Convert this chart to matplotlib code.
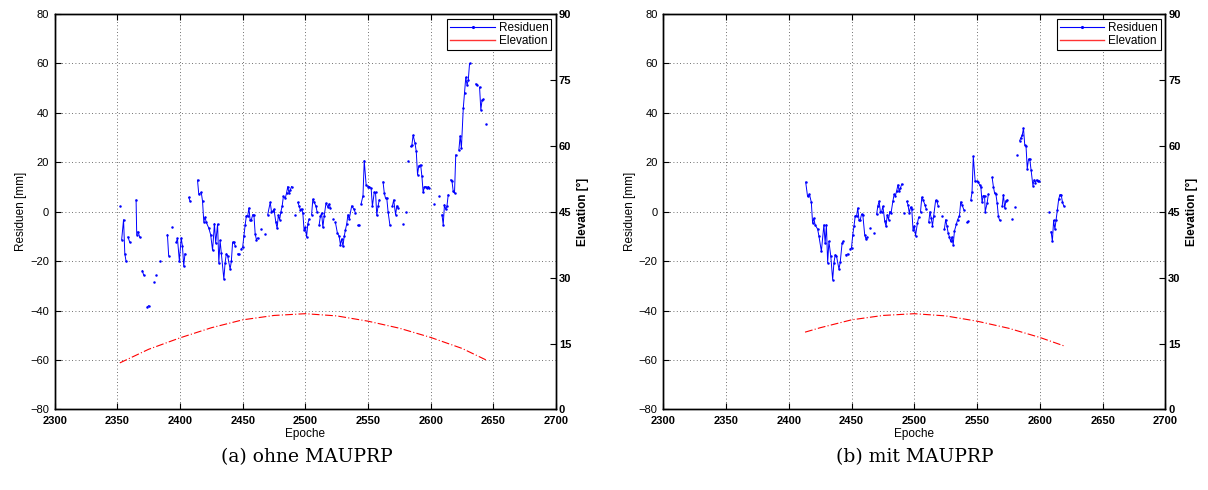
import numpy as np
import matplotlib
matplotlib.use("Agg")
import matplotlib.pyplot as plt
from matplotlib.lines import Line2D

plt.rcParams["font.family"] = ["Liberation Sans", "DejaVu Sans"]

# Residuen ohne MAUPRP: segments separated by gaps (epoch, mm)
segs_ohne = [
    [(2352, 2.2)],
    [(2353.5, -11.3), (2355, -3.2), (2356, -17), (2357, -20)],
    [(2358.5, -10.2), (2360, -12.4)],
    [(2365, 4.8), (2365.5, -9.3), (2366.5, -8), (2368, -10.4)],
    [(2370, -23.8), (2371, -25.6)],
    [(2374, -38.5), (2375, -38)],
    [(2379, -28.6)],
    [(2381, -25.5)],
    [(2384, -20)],
    [(2390, -9.3), (2391, -17.8)],
    [(2394, -6.2)],
    [(2397, -12.4), (2398, -10.8), (2399.5, -19.8), (2401, -10.6), (2402, -14),
     (2403, -22), (2404, -17)],
    [(2407, 5.8), (2408, 4.3)],
    [(2414, 12.8), (2415, 7.1), (2417, 7.8), (2418, 4.3), (2419, -4), (2420, -2.2),
     (2421, -4.3), (2423, -6.6), (2424.5, -9.3), (2426, -15.6), (2427.5, -4.8),
     (2428.5, -12.7), (2430, -5), (2431, -20.7), (2432, -11.6), (2433, -16.7),
     (2435, -27.2), (2436, -20.7), (2437, -17), (2438, -17.8), (2440, -23.2),
     (2441, -20), (2442, -12.3), (2443, -12.3), (2444, -13.7)],
    [(2446, -17.1), (2447, -17.1)],
    [(2449, -15), (2450, -14.4), (2451, -9.7), (2452, -5.3), (2453, -1.6), (2454, -1.8),
     (2455, 1.5), (2456, -3.5), (2457, -3.2), (2458, -1.2), (2459, -1.3), (2460, -9),
     (2461, -11.3), (2462, -10.6)],
    [(2465, -7)],
    [(2468, -9)],
    [(2470, -1.2), (2472, 3.8), (2473, 0), (2474, 0.2), (2475, 1), (2476.5, -4.3),
     (2477.5, -6.7), (2478.5, -1.3), (2479.5, -3.2), (2480.5, 0), (2481.5, 2.2),
     (2482.5, 6.2), (2484, 5.5), (2485, 7.5), (2486, 10.2), (2487, 7.5), (2488, 8.9),
     (2489, 10.2)],
    [(2492, -1.2)],
    [(2494, 3.8), (2495, 2.4), (2496, 0.8), (2497, 1.2), (2498, -0.5), (2499, -7.3),
     (2500, -6.3), (2501, -10.2), (2502, -4.8), (2503, -3)],
    [(2505, -1.2), (2506, 5.1), (2507, 3.9), (2508.5, 2.2), (2509.5, -0.3)],
    [(2511, -5.4), (2512, -1.9), (2513, -0.5), (2514, -6.3), (2515, -1.9), (2516.5, 3.5),
     (2518, 1.9), (2519, 3.2), (2520, 1.5)],
    [(2522, -3)],
    [(2524, -4.3), (2525.5, -8.4), (2527, -10), (2528, -13.3), (2529, -11), (2530, -14),
     (2531, -10), (2532, -7.3), (2533, -5), (2534, -1.2), (2535, -3), (2537, 2.4),
     (2538.8, 1), (2540, -0.5)],
    [(2542, -5.5), (2543, -5.5)],
    [(2544.5, 3.2), (2546, 6.5), (2547, 20.7), (2548.5, 10.9), (2550, 10.2), (2551, 10.2),
     (2552.5, 9.5), (2553.5, 2.2), (2555, 7.9), (2556, 7.8), (2557, -1.5), (2558, 2.2),
     (2559, 4.8)],
    [(2562, 12.1), (2563, 7.5), (2564, 5.4), (2565, 5.4), (2566, 0), (2567.5, -5.5)],
    [(2569.5, 2.4), (2570.5, 4.8), (2572, -1.2), (2573, 2.4), (2574, 1.5)],
    [(2578, -5)],
    [(2580, 0)],
    [(2582, 20.7)],
    [(2584, 26.4), (2585, 27), (2586, 31), (2587.5, 27.7), (2588.5, 24.4), (2589.5, 15),
     (2590.5, 18.6), (2592, 19), (2593, 14.3), (2594, 7.8), (2595, 10), (2596, 10.2),
     (2597, 9.5), (2598, 10.2), (2599, 9.5)],
    [(2603, 3)],
    [(2607, 6.5)],
    [(2609, -1.2), (2610, -5.3), (2611, 2.8), (2612, 1), (2613, 2.4), (2614, 6.9)],
    [(2616, 12.9), (2617, 12.3), (2618, 8.2), (2619, 7.5), (2620, 23)],
    [(2622.5, 25), (2623.5, 30.7), (2624.5, 25.7), (2626, 41.9), (2627, 48), (2628, 54.4),
     (2629, 51.3), (2630, 53.3), (2631, 60)],
    [(2636, 51.7), (2637, 51.3)],
    [(2639, 50.4), (2640, 41.2), (2641, 45.2), (2642, 45.5)],
    [(2644, 35.6)],
]

# Residuen mit MAUPRP
segs_mit = [
    [(2413.5, 12), (2415, 6.2), (2416.5, 7.1), (2418, 3.8), (2419, -4.6), (2420, -2.6),
     (2421, -5.3), (2423, -7), (2424, -9.7), (2426, -16), (2428, -5.3), (2429, -12.7),
     (2430, -5.3), (2431, -20.7), (2432, -12), (2433.5, -18), (2435, -27.5),
     (2436, -20.7), (2437, -17.4), (2438, -17.8), (2440, -23.2), (2441, -20.5),
     (2442.5, -12.7), (2443.5, -12)],
    [(2445.5, -17.4), (2447, -17.1)],
    [(2449, -15), (2450, -14.6), (2451, -9.3), (2452, -5.7), (2453, -1.6), (2454, -1.9),
     (2455, 1.5), (2456, -3.5), (2457, -3.2), (2458, -1), (2459, -1.2), (2460.5, -9.3),
     (2461.5, -11), (2462.5, -10.4)],
    [(2465, -6.6)],
    [(2468, -8.6)],
    [(2470, -1), (2471, 2.4), (2472, 4.2), (2473, 0), (2474, 0), (2475, 2.2),
     (2476.5, -3.9), (2477.5, -5.9), (2478.5, -1.2), (2479.5, -3.2), (2480.5, 0.1),
     (2481.5, -0.5), (2483, 4.4), (2484, 7.1), (2485, 6.5), (2486, 8.5), (2487, 10.9),
     (2488, 8.2), (2489, 9.6), (2490, 11.2)],
    [(2492, -0.5)],
    [(2494, 4.2), (2495, 2.8), (2496, -0.5), (2497, 1.9), (2498, 1.1), (2499, -7.3),
     (2500, -5.7), (2501, -9.7), (2502.5, -4.6), (2503.5, -2.2)],
    [(2505, 0.1), (2506, 5.9), (2507, 4.8), (2508.5, 2.8), (2509.5, 1.1)],
    [(2511.5, -4.3), (2512.5, 0), (2513.5, -2.6), (2514.5, -5.7), (2515.5, -1.6),
     (2517, 4.6), (2518, 4.2), (2519, 2.4)],
    [(2522, -1.9)],
    [(2524, -7), (2525, -3.2), (2526, -5.7), (2527, -8.6), (2528, -10.2), (2529, -12),
     (2530, -10.2), (2531, -13.3), (2532, -7.8), (2533.5, -5), (2534.5, -3.2),
     (2536, -1.6), (2537, 4), (2538, 2.8), (2539.5, 0.8)],
    [(2542, -4.3), (2543, -3.9)],
    [(2545, 4.6), (2546, 7.8), (2547, 22.4), (2548.5, 12.3), (2550, 12.3), (2551, 11.9),
     (2552, 10.9), (2553, 10.2), (2554, 3.8), (2555, 6.5), (2556, 6.5), (2556.5, 0),
     (2558, 3.4), (2559, 7.1)],
    [(2562, 13.9), (2563, 10.2), (2564, 7.5), (2565, 7.2), (2566, 3.5), (2567, -1.9),
     (2568, -3.5)],
    [(2570, 2.2), (2571, 6.9), (2572, 1.5), (2573, 4.5), (2574, 4.8)],
    [(2578, -3)],
    [(2580, 1.9)],
    [(2582, 23)],
    [(2584, 28.8), (2585, 30), (2586, 31), (2587, 33.8), (2588, 27), (2589, 26.6),
     (2590, 17.4), (2591, 21.3), (2592, 21.3), (2593, 17), (2594.5, 10.6),
     (2595.5, 12.9), (2596.5, 11.8), (2597.5, 12.9), (2598.5, 12.3), (2599.5, 12.3)],
    [(2607, 0)],
    [(2609, -8), (2610, -12), (2611, -3.5), (2612, -7), (2613, -3.2), (2614, 0.8),
     (2615, 5), (2616, 6.9), (2617, 6.9), (2618, 4), (2619, 2.4)],
]

# Elevation [deg]
elev_epoch_ohne = [2352, 2375, 2400, 2425, 2450, 2475, 2500, 2525, 2550, 2575, 2600, 2625, 2644]
elev_ohne = [10.6, 13.7, 16.3, 18.6, 20.4, 21.4, 21.8, 21.3, 20.1, 18.5, 16.4, 13.9, 11.3]
elev_epoch_mit = [2413, 2425, 2450, 2475, 2500, 2525, 2550, 2575, 2600, 2620]
elev_mit = [17.6, 18.6, 20.4, 21.4, 21.8, 21.3, 20.1, 18.5, 16.4, 14.4]

captions = ["(a) ohne MAUPRP", "(b) mit MAUPRP"]


def join_segments(segs):
    xs, ys = [], []
    for seg in segs:
        for e, v in seg:
            xs.append(e)
            ys.append(v)
        xs.append(np.nan)
        ys.append(np.nan)
    return np.array(xs), np.array(ys)


def draw_panel(fig, rect, segs, ex, ev, caption, cx):
    ax = fig.add_axes(rect)
    x, y = join_segments(segs)
    ax.plot(x, y, "-", color="blue", lw=0.7, marker=".", markersize=1.6, zorder=3)
    ax.set_xlim(2300, 2700)
    ax.set_ylim(-80, 80)
    ax.set_xticks(np.arange(2300, 2701, 50))
    ax.set_yticks(np.arange(-80, 81, 20))
    ax.grid(True, linestyle=(0, (1, 3)), color="0.25", lw=0.6)
    ax.tick_params(direction="in", length=4, labelsize=8, top=True, right=False)
    ax.tick_params(axis="x", pad=5)
    ax.tick_params(axis="y", pad=4)
    for lab in ax.get_xticklabels():
        lab.set_fontweight("bold")
    ax.set_xlabel("Epoche", fontsize=8.5, labelpad=1)
    ax.set_ylabel("Residuen [mm]", fontsize=8.5, labelpad=2)

    ax2 = ax.twinx()
    ax2.plot(ex, ev, color="red", lw=0.8, linestyle=(0, (7, 2, 1, 2)))
    ax2.set_ylim(0, 90)
    ax2.set_yticks(np.arange(0, 91, 15))
    ax2.tick_params(direction="in", length=4, labelsize=8, pad=2)
    for lab in ax2.get_yticklabels():
        lab.set_fontweight("bold")
    ax2.set_ylabel("Elevation [°]", fontsize=8.5, fontweight="bold", labelpad=4)
    for a in (ax, ax2):
        for s in a.spines.values():
            s.set_linewidth(1.0)

    handles = [
        Line2D([], [], color="blue", lw=0.8, marker=".", markersize=2.5),
        Line2D([], [], color="red", lw=1.0, alpha=0.8),
    ]
    leg = ax2.legend(handles, ["Residuen", "Elevation"], loc="upper right",
                     fontsize=8.5, fancybox=False, framealpha=1, edgecolor="black",
                     borderaxespad=0.4, handlelength=3.8, handletextpad=0.3,
                     borderpad=0.25, labelspacing=0.15)
    leg.get_frame().set_linewidth(0.8)

    fig.text(cx, 0.067, caption, ha="center", va="center",
             family="DejaVu Serif", fontsize=13.5)


fig = plt.figure(figsize=(12.08, 4.9), dpi=100)
draw_panel(fig, [0.0452, 0.1643, 0.4151, 0.8071], segs_ohne,
           elev_epoch_ohne, elev_ohne, captions[0], 0.254)
draw_panel(fig, [0.549, 0.1643, 0.4157, 0.8071], segs_mit,
           elev_epoch_mit, elev_mit, captions[1], 0.757)
fig.savefig("out.png", dpi=100)
